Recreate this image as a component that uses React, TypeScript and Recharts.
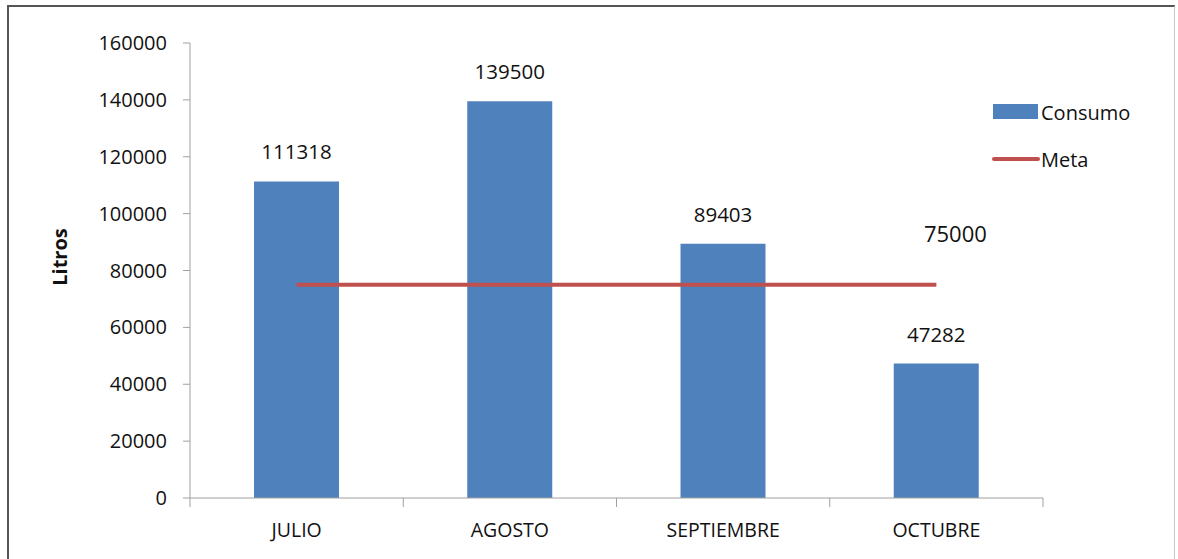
import React from 'react';
import { ComposedChart, Bar, Line, XAxis, YAxis, Legend, LabelList } from 'recharts';

const categories = ['JULIO', 'AGOSTO', 'SEPTIEMBRE', 'OCTUBRE'];
const consumo = [111318, 139500, 89403, 47282];
const meta = [75000, 75000, 75000, 75000];
const yTicks = [0, 20000, 40000, 60000, 80000, 100000, 120000, 140000, 160000];

const data = categories.map((c, i) => ({ name: c, Consumo: consumo[i], Meta: meta[i] }));

const FONT = '"Open Sans", "Liberation Sans", sans-serif';
const AXIS = '#a0a0a0';
const W = 1178;
const H = 559;
const MARGIN = { top: 43, right: 135, bottom: 0, left: 0 };
const Y_W = 190;
const X_H = 61;
const BAND = (W - MARGIN.left - MARGIN.right - Y_W) / categories.length;

const XTick = (props: any) => {
  const { x, y, payload, index } = props;
  const left = x - BAND / 2;
  const right = x + BAND / 2;
  return (
    <g>
      <line x1={left} y1={y} x2={left} y2={y + 9} stroke={AXIS} strokeWidth={1} />
      {index === categories.length - 1 && (
        <line x1={right} y1={y} x2={right} y2={y + 9} stroke={AXIS} strokeWidth={1} />
      )}
      <text x={x} y={y + 34} textAnchor="middle" dominantBaseline="middle" fontFamily={FONT} fontSize={19.5} fill="#111">
        {payload.value}
      </text>
    </g>
  );
};

const MetaLabel = (props: any) => {
  const { x, y, value, index } = props;
  if (index !== meta.length - 1) return null;
  return (
    <text x={x + 19} y={y - 49} textAnchor="middle" dominantBaseline="middle" fontFamily={FONT} fontSize={22} fill="#111">
      {value}
    </text>
  );
};

const LegendContent = (props: any) => {
  const { payload } = props;
  return (
    <div style={{ fontFamily: FONT, fontSize: 20, color: '#111' }}>
      {(payload || []).map((p: any) => (
        <div key={p.value} style={{ display: 'flex', alignItems: 'center', height: 24, marginBottom: 23 }}>
          <svg width={48} height={20} style={{ display: 'block' }}>
            {p.type === 'line' ? (
              <line x1={2} y1={10} x2={46} y2={10} stroke={p.color} strokeWidth={4} strokeLinecap="round" />
            ) : (
              <rect x={1} y={2} width={45} height={15} fill={p.color} />
            )}
          </svg>
          <span style={{ marginLeft: 1 }}>{p.value}</span>
        </div>
      ))}
    </div>
  );
};

export default function App() {
  return (
    <div style={{ position: 'absolute', left: 0, top: 0, width: W, height: H, background: '#fff', overflow: 'hidden' }}>
      <div
        style={{
          position: 'absolute',
          left: 7,
          top: 5,
          width: 1168,
          height: 600,
          borderLeft: '2px solid #555',
          borderTop: '2px solid #555',
          borderRight: '1px solid #c8c8c8',
          boxSizing: 'border-box',
        }}
      />
      <div style={{ position: 'absolute', left: 0, top: 0 }}>
        <ComposedChart width={W} height={H} data={data} margin={MARGIN} barCategoryGap={64}>
          <XAxis
            dataKey="name"
            height={X_H}
            axisLine={{ stroke: AXIS }}
            tickLine={false}
            tickSize={0}
            tickMargin={0}
            tick={<XTick />}
            interval={0}
          />
          <YAxis
            width={Y_W}
            domain={[0, 160000]}
            ticks={yTicks}
            interval={0}
            axisLine={{ stroke: AXIS }}
            tickLine={{ stroke: AXIS }}
            tickSize={7}
            tickMargin={16}
            tick={{ fontFamily: FONT, fontSize: 20, fill: '#111' }}
            label={{
              content: () => (
                <text
                  x={62}
                  y={257}
                  transform="rotate(-90 62 257)"
                  textAnchor="middle"
                  dominantBaseline="middle"
                  fontFamily={FONT}
                  fontSize={20}
                  fontWeight="bold"
                  fill="#111"
                >
                  Litros
                </text>
              ),
            }}
          />
          <Legend
            layout="vertical"
            align="center"
            verticalAlign="middle"
            content={<LegendContent />}
            wrapperStyle={{ position: 'absolute', left: 992, top: 100, width: 180, height: 100 }}
          />
          <Bar dataKey="Consumo" fill="#4F81BD" isAnimationActive={false} legendType="rect">
            <LabelList dataKey="Consumo" position="top" offset={22} fontFamily={FONT} fontSize={20.5} fill="#111" />
          </Bar>
          <Line
            dataKey="Meta"
            stroke="#C0504D"
            strokeWidth={4}
            dot={false}
            activeDot={false}
            isAnimationActive={false}
            legendType="line"
          >
            <LabelList dataKey="Meta" content={<MetaLabel />} />
          </Line>
        </ComposedChart>
      </div>
    </div>
  );
}
